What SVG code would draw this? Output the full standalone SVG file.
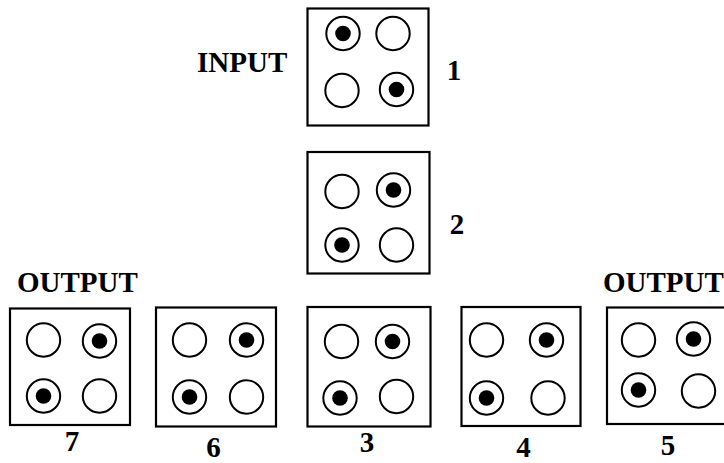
<svg xmlns="http://www.w3.org/2000/svg" width="724" height="463" viewBox="0 0 724 463">
  <style>
    .box { fill: #fff; stroke: #000; stroke-width: 2.2; }
    .ring { fill: #fff; stroke: #000; stroke-width: 2; }
    .dot { fill: #000; }
    .lbl { font-family: 'Liberation Serif', 'Times New Roman', Times, serif; font-weight: 700; fill: #000; }
    .word { font-size: 29px; }
    .num { font-size: 29px; text-anchor: middle; }
  </style>
  <defs>
    <circle id="empty" r="16.7" class="ring"/>
    <g id="full">
      <circle r="16.7" class="ring"/>
      <circle r="7.8" class="dot"/>
    </g>
  </defs>
  <rect width="724" height="463" fill="#fff"/>

  <text class="lbl word" x="197" y="72">INPUT</text>
  <text class="lbl word" x="17" y="292">OUTPUT</text>
  <text class="lbl word" x="603" y="292">OUTPUT</text>

  <g id="connectors"/>

  <g id="state1">
    <rect class="box" x="307.5" y="8.5" width="121" height="117"/>
    <use href="#full" x="343" y="33.5"/>
    <use href="#empty" x="393" y="33.5"/>
    <use href="#empty" x="342" y="90.5"/>
    <use href="#full" x="396.5" y="89.5"/>
    <text class="lbl num" x="454" y="80">1</text>
  </g>

  <g id="state2">
    <rect class="box" x="307.5" y="152" width="122" height="121.5"/>
    <use href="#empty" x="342" y="191.5"/>
    <use href="#full" x="393.5" y="190"/>
    <use href="#full" x="342" y="245"/>
    <use href="#empty" x="396.5" y="245"/>
    <text class="lbl num" x="457" y="234">2</text>
  </g>

  <g id="state7">
    <rect class="box" x="10" y="308.5" width="120" height="116.5"/>
    <use href="#empty" x="43.5" y="340"/>
    <use href="#full" x="99.5" y="341"/>
    <use href="#full" x="43.5" y="396"/>
    <use href="#empty" x="99.5" y="396"/>
    <text class="lbl num" x="72" y="451">7</text>
  </g>

  <g id="state6">
    <rect class="box" x="156" y="307.5" width="120" height="119"/>
    <use href="#empty" x="189.5" y="340"/>
    <use href="#full" x="246.5" y="340"/>
    <use href="#full" x="189.5" y="397"/>
    <use href="#empty" x="246.5" y="397"/>
    <text class="lbl num" x="213.5" y="457">6</text>
  </g>

  <g id="state3">
    <rect class="box" x="307.5" y="307" width="123" height="119.5"/>
    <use href="#empty" x="341.5" y="341.5"/>
    <use href="#full" x="392.5" y="341.5"/>
    <use href="#full" x="340" y="398"/>
    <use href="#empty" x="396.5" y="396.5"/>
    <text class="lbl num" x="367" y="452">3</text>
  </g>

  <g id="state4">
    <rect class="box" x="461.5" y="307" width="119" height="119"/>
    <use href="#empty" x="486.5" y="340"/>
    <use href="#full" x="546.5" y="340"/>
    <use href="#full" x="486.5" y="398"/>
    <use href="#empty" x="548" y="398"/>
    <text class="lbl num" x="523.5" y="457">4</text>
  </g>

  <g id="state5">
    <rect class="box" x="607" y="307.5" width="130" height="116.5"/>
    <use href="#empty" x="638.5" y="340"/>
    <use href="#full" x="693.5" y="339"/>
    <use href="#full" x="638.5" y="390"/>
    <use href="#empty" x="698.5" y="391"/>
    <text class="lbl num" x="668" y="455">5</text>
  </g>
</svg>
